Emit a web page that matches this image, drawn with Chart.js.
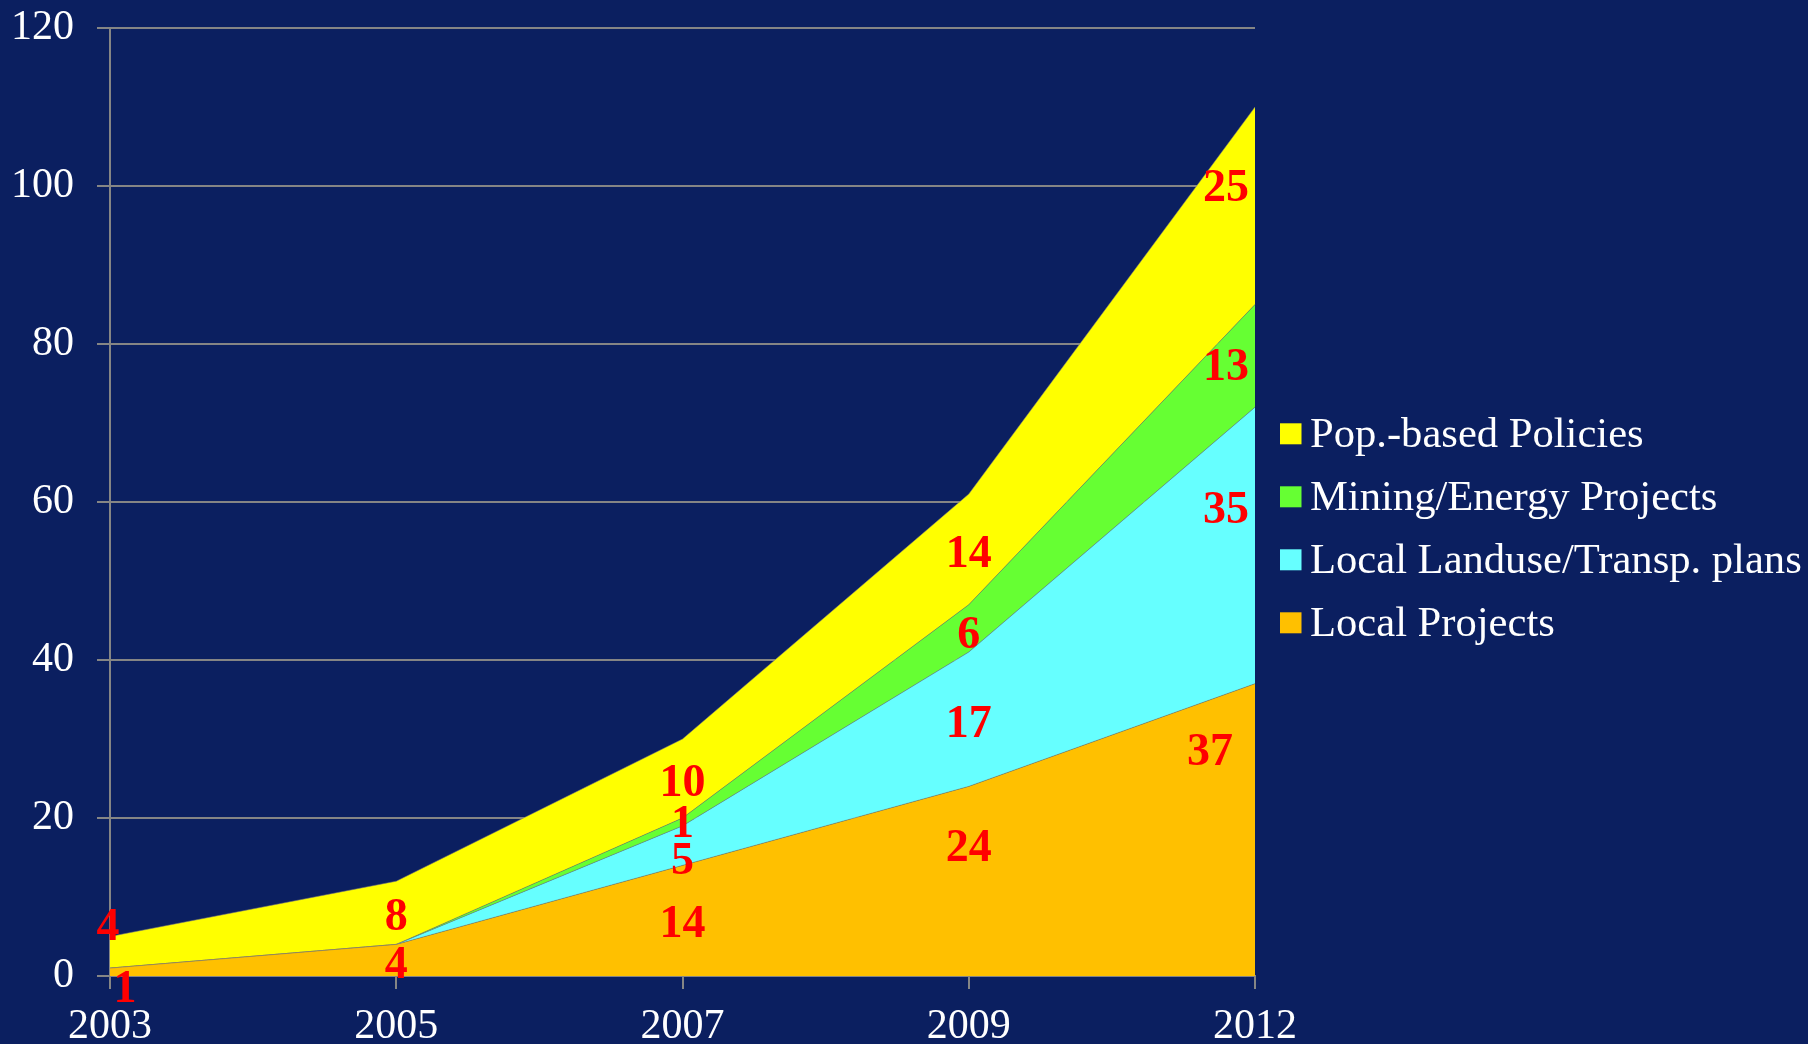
<!DOCTYPE html>
<html>
<head>
<meta charset="utf-8">
<title>Growth by category, 2003–2012</title>
<script src="https://cdn.jsdelivr.net/npm/chart.js@4/dist/chart.umd.min.js"></script>
<style>
  html, body { margin: 0; padding: 0; background: #0b1f60; }
  #wrap { width: 1808px; height: 1044px; }
  canvas { display: block; }
</style>
</head>
<body>
<div id="wrap"><canvas id="chart" width="1808" height="1044"></canvas></div>
<script>
// Category years along the x axis
const years = ['2003', '2005', '2007', '2009', '2012'];

// Counts per category, stacked bottom to top
const localProjects   = [1, 4, 14, 24, 37];
const landusePlans    = [0, 0, 5, 17, 35];
const miningEnergy    = [0, 0, 1, 6, 13];
const popPolicies     = [4, 8, 10, 14, 25];

// Y axis tick range
const yMin = 0;
const yMax = 120;
const yStep = 20;

// Series names as shown in the legend
const seriesNames = ['Local Projects', 'Local Landuse/Transp. plans', 'Mining/Energy Projects', 'Pop.-based Policies'];
const seriesColors = ['#ffc000', '#66ffff', '#66ff33', '#ffff00'];

// Pixel nudges for value labels relative to the middle of each band
const labelNudges = [
  [[15, 15], [0, 2], [0, 1], [0, -36], [-45, -80]],
  [null, null, [0, 13], [0, 2], [-29, -38]],
  [null, null, [0, 0], [0, 4], [-29, 9]],
  [[-2, -28], [0, 2], [0, 2], [0, 2], [-29, -20]]
];

const seriesValues = [localProjects, landusePlans, miningEnergy, popPolicies];

const AXIS_GRAY = '#858585';
const SERIF = '"Liberation Serif", "Times New Roman", serif';

// Draws the red value labels inside each stacked band
const bandLabels = {
  id: 'bandLabels',
  afterDatasetsDraw(chart) {
    const ctx = chart.ctx;
    const xs = chart.scales.x;
    const ys = chart.scales.y;
    const size = 46;
    ctx.save();
    ctx.font = 'bold ' + size + 'px ' + SERIF;
    ctx.fillStyle = '#ff0000';
    ctx.textAlign = 'center';
    ctx.textBaseline = 'alphabetic';
    seriesValues.forEach((vals, si) => {
      vals.forEach((v, j) => {
        if (!v) return;
        let base = 0;
        for (let k = 0; k < si; k++) base += seriesValues[k][j];
        const nudge = labelNudges[si][j] || [0, 0];
        const x = xs.getPixelForValue(j) + nudge[0];
        const y = ys.getPixelForValue(base + v / 2) + nudge[1];
        ctx.fillText(String(v), x, y + size * 0.335);
      });
    });
    ctx.restore();
  }
};

// Legend column to the right of the plot, top series first
const sideLegend = {
  id: 'sideLegend',
  afterDraw(chart) {
    const ctx = chart.ctx;
    const boxX = chart.chartArea.right + 25;
    const rowStart = 433.8;
    const rowGap = 63;
    const size = 42.6;
    ctx.save();
    ctx.font = size + 'px ' + SERIF;
    ctx.textAlign = 'left';
    ctx.textBaseline = 'alphabetic';
    const order = [3, 2, 1, 0];
    order.forEach((si, r) => {
      const cy = rowStart + r * rowGap;
      ctx.fillStyle = seriesColors[si];
      ctx.fillRect(boxX, cy - 10.5, 21.5, 21);
      ctx.fillStyle = '#ffffff';
      ctx.fillText(seriesNames[si], boxX + 30, cy + 13.5);
    });
    ctx.restore();
  }
};

const datasets = seriesValues.map((vals, i) => ({
  label: seriesNames[i],
  data: vals,
  backgroundColor: seriesColors[i],
  borderColor: 'rgba(120,120,120,0.55)',
  borderWidth: 1,
  fill: i === 0 ? 'origin' : '-1',
  pointRadius: 0,
  pointHoverRadius: 0,
  tension: 0
}));

new Chart(document.getElementById('chart'), {
  type: 'line',
  data: { labels: years, datasets },
  options: {
    responsive: false,
    devicePixelRatio: 1,
    animation: false,
    layout: { padding: { left: 0, right: 553, top: 28, bottom: 0 } },
    plugins: {
      legend: { display: false },
      tooltip: { enabled: false }
    },
    scales: {
      x: {
        offset: false,
        grid: {
          drawOnChartArea: false,
          drawTicks: true,
          tickLength: 13,
          color: AXIS_GRAY,
          lineWidth: 2
        },
        border: { display: true, color: AXIS_GRAY, width: 2 },
        ticks: {
          color: '#ffffff',
          font: { family: SERIF, size: 42 },
          padding: 13,
          maxRotation: 0
        },
        afterFit(scale) {
          scale.height = 68;
          scale.paddingLeft = 0;
          scale.paddingRight = 0;
        }
      },
      y: {
        stacked: true,
        min: yMin,
        max: yMax,
        grid: {
          drawOnChartArea: true,
          drawTicks: true,
          tickLength: 13,
          color: AXIS_GRAY,
          lineWidth: 2
        },
        border: { display: true, color: AXIS_GRAY, width: 2 },
        ticks: {
          stepSize: yStep,
          color: '#ffffff',
          font: { family: SERIF, size: 42 },
          padding: 23
        },
        afterFit(scale) {
          scale.width = 110;
          scale.paddingTop = 0;
          scale.paddingBottom = 0;
        }
      }
    }
  },
  plugins: [bandLabels, sideLegend]
});
</script>
</body>
</html>
